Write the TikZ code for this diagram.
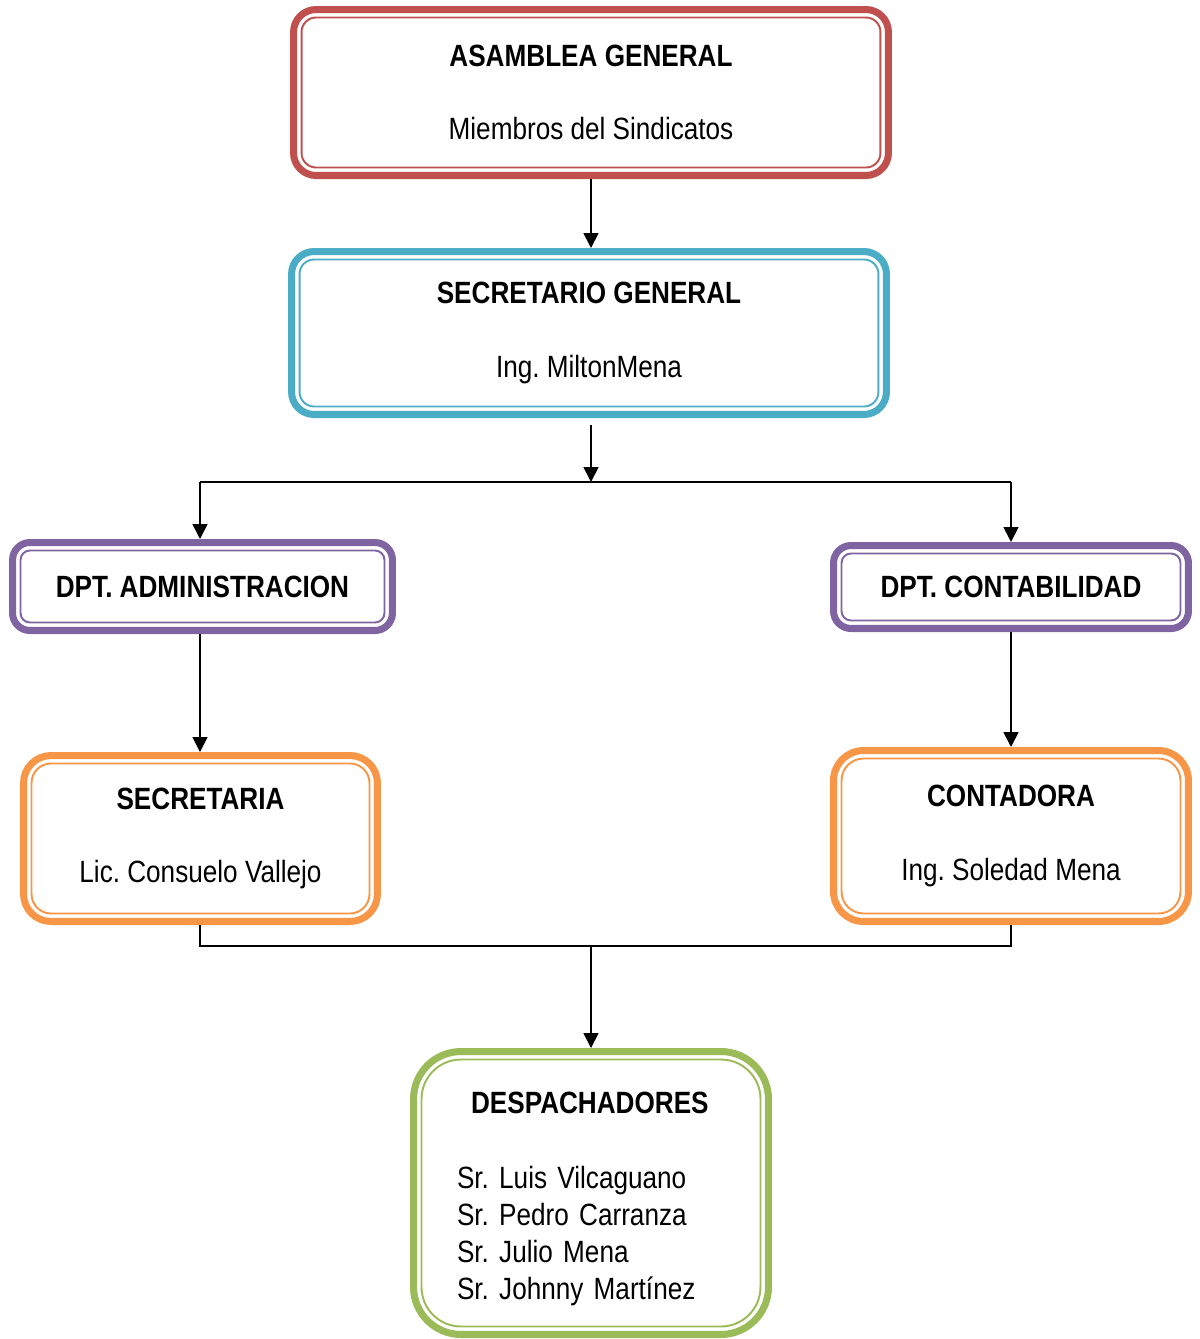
\documentclass[tikz,border=0pt]{standalone}
\usepackage{fontspec}
\setmainfont{Liberation Sans}[FakeStretch=0.85]
\usetikzlibrary{arrows.meta}
\definecolor{rojo}{HTML}{C0504D}
\definecolor{azul}{HTML}{4BACC6}
\definecolor{lila}{HTML}{8064A2}
\definecolor{naranja}{HTML}{F79646}
\definecolor{verde}{HTML}{9BBB59}
\frenchspacing
\begin{document}
\begin{tikzpicture}
  [x=0.02cm,y=-0.02cm,
   caja/.style={draw=#1,line width=4pt,outer sep=2pt,align=center,
     font=\fontsize{17.5}{20}\selectfont},
   flecha/.style={line width=1pt,-{Triangle[length=0.3cm,width=0.3cm]}},
   linea/.style={line width=1pt}]
  \useasboundingbox (0,0) rectangle (1200,1339);

  \node[caja=rojo,minimum width=11.9cm,minimum height=3.32cm,rounded corners=0.45cm] (asam) at (591,92.5)
    {\textbf{ASAMBLEA GENERAL}\\[22pt]Miembros del Sindicatos};
  \node[caja=azul,minimum width=11.9cm,minimum height=3.26cm,rounded corners=0.45cm] (secg) at (589,333)
    {\textbf{SECRETARIO GENERAL}\\[22pt]Ing. MiltonMena};
  \node[caja=lila,minimum width=7.6cm,minimum height=1.76cm,rounded corners=0.35cm] (admin) at (202.5,586.5)
    {\textbf{DPT. ADMINISTRACION}};
  \node[caja=lila,minimum width=7.1cm,minimum height=1.66cm,rounded corners=0.35cm] (contab) at (1011,587)
    {\textbf{DPT. CONTABILIDAD}};
  \node[caja=naranja,minimum width=7.08cm,minimum height=3.32cm,rounded corners=0.55cm] (secr) at (200.5,838.5)
    {\textbf{SECRETARIA}\\[22pt]Lic. Consuelo Vallejo};
  \node[caja=naranja,minimum width=7.1cm,minimum height=3.42cm,rounded corners=0.6cm] (conta) at (1011,836)
    {\textbf{CONTADORA}\\[22pt]Ing. Soledad Mena};
  \node[caja=verde,minimum width=7.1cm,minimum height=5.66cm,rounded corners=0.95cm,
        align=left,text width=5.36cm] (desp) at (591,1193)
    {\rule{0pt}{19pt}\hspace*{0.28cm}\textbf{DESPACHADORES}\\[22.5pt]Sr. Luis Vilcaguano\\[1pt]Sr. Pedro Carranza\\[1pt]
     Sr. Julio Mena\\[1pt]Sr. Johnny Martínez};

  \foreach \n/\c/\r in {asam/rojo/0.29,secg/azul/0.29,admin/lila/0.19,contab/lila/0.19,
    secr/naranja/0.39,conta/naranja/0.44,desp/verde/0.79}
    \draw[\c,line width=1.1pt,rounded corners=\r cm]
      ([shift={(11.5,-11.5)}]\n.south west) rectangle ([shift={(-11.5,11.5)}]\n.north east);

  \coordinate (j1) at (591,482);
  \coordinate (a1) at (200,482);
  \coordinate (c1) at (1011,482);
  \coordinate (j2) at (591,946);
  \coordinate (a2) at (200,946);
  \coordinate (c2) at (1011,946);

  \draw[flecha] (asam.south) -- (asam.south |- secg.north);
  \draw[flecha,shorten <=0.14cm] (j1 |- secg.south) -- (j1);
  \draw[linea] (a1) -- (c1);
  \draw[flecha] (a1) -- (a1 |- admin.north);
  \draw[flecha] (c1) -- (c1 |- contab.north);
  \draw[flecha] (a1 |- admin.south) -- (a1 |- secr.north);
  \draw[flecha] (contab.south) -- (contab.south |- conta.north);
  \draw[linea] (a1 |- secr.south) -- (a2) -- (c2) -- (conta.south);
  \draw[flecha] (j2) -- (desp.north);
\end{tikzpicture}
\end{document}
